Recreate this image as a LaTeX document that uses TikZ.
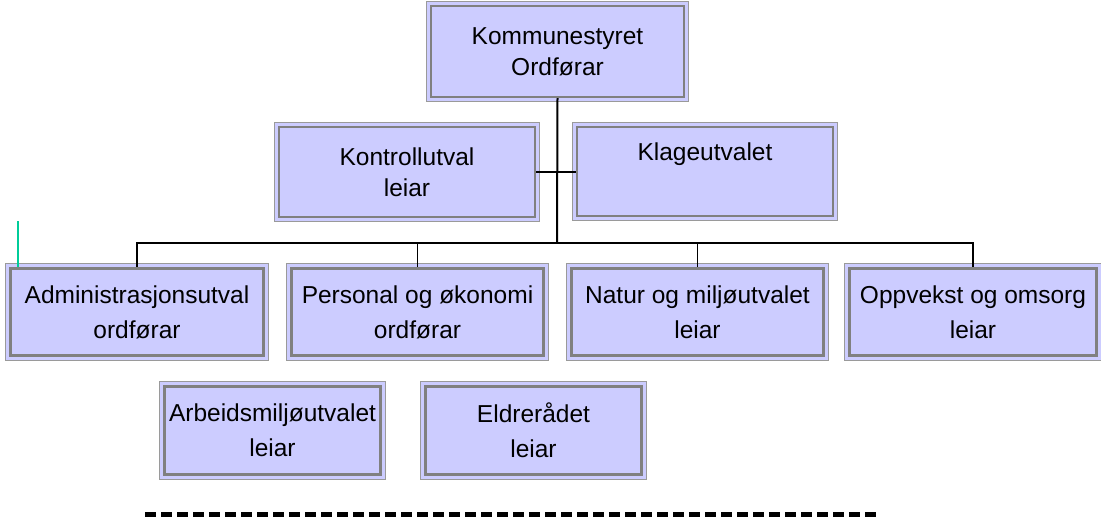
\documentclass[tikz,border=0pt]{standalone}
\usepackage{fontspec}
\setmainfont{Liberation Sans}
\usetikzlibrary{backgrounds}
\definecolor{boxfill}{HTML}{CCCCFF}
\definecolor{boxline}{HTML}{808080}
\definecolor{boxouter}{HTML}{9A9A9A}
\definecolor{greenmark}{HTML}{00CC99}
\begin{document}
\begin{tikzpicture}[x=1pt,y=-1pt,
  orgbox/.style={draw=boxline, fill=boxfill, inner sep=0pt, align=center,
    font=\fontsize{24.5}{31}\selectfont},
  upperbox/.style={orgbox, line width=2pt},
  lowerbox/.style={orgbox, line width=3.4pt, font=\fontsize{24.5}{35}\selectfont},
  outerbox/.style={draw=boxouter, line width=0.9pt, fill=boxfill},
  conn/.style={draw=black, line width=1.4pt},
  mainconn/.style={draw=black, line width=2pt}]
\useasboundingbox (0,0) rectangle (1101,517);

% green marker
\coordinate (g1) at (17.7,221);
\coordinate (g2) at (17.7,300);
\draw[greenmark, line width=1.8pt] (g1) -- (g2);

% upper boxes
\node[upperbox, minimum width=253pt, minimum height=91pt] (ks) at (557.5,51.5) {Kommunestyret\\Ordførar};
\node[upperbox, minimum width=256pt, minimum height=90pt] (kon) at (407,172) {Kontrollutval\\leiar};
\node[upperbox, minimum width=256pt, minimum height=89pt] (kla) at (705,171.5) {Klageutvalet\\\strut};

% lower boxes
\node[lowerbox, minimum width=253pt, minimum height=87pt] (adm) at (137,312) {Administrasjonsutval\\ordførar};
\node[lowerbox, minimum width=252pt, minimum height=87pt] (per) at (417.5,312) {Personal og økonomi\\ordførar};
\node[lowerbox, minimum width=252pt, minimum height=87pt] (nat) at (697.5,312) {Natur og miljøutvalet\\leiar};
\node[lowerbox, minimum width=247pt, minimum height=87pt] (opp) at (973,312) {Oppvekst og omsorg\\leiar};
\node[lowerbox, minimum width=216pt, minimum height=88pt] (arb) at (272.5,430.5) {Arbeidsmiljøutvalet\\leiar};
\node[lowerbox, minimum width=216pt, minimum height=88pt] (eld) at (533.5,430.5) {Eldrerådet\\leiar};

\begin{scope}[on background layer]
\foreach \n in {ks,kon,kla,adm,per,nat,opp,arb,eld}{
  \draw[outerbox] ([shift={(-3.3,-3.3)}]\n.north west) rectangle ([shift={(3.3,3.3)}]\n.south east);
}
\end{scope}

% connectors
\coordinate (bus) at (557,243);
\draw[mainconn] (ks.south) -- (bus);
\draw[conn] (kon.east) -- (kon.east -| kla.west);
\draw[conn] (adm.north) |- (bus) -| (opp.north);
\draw[conn] (per.north) -- (per.north |- bus);
\draw[conn] (nat.north) -- (nat.north |- bus);

% dashed line
\draw[line width=5.5pt, dash pattern=on 11pt off 5pt] (145,514.5) -- (878,514.5);
\end{tikzpicture}
\end{document}
